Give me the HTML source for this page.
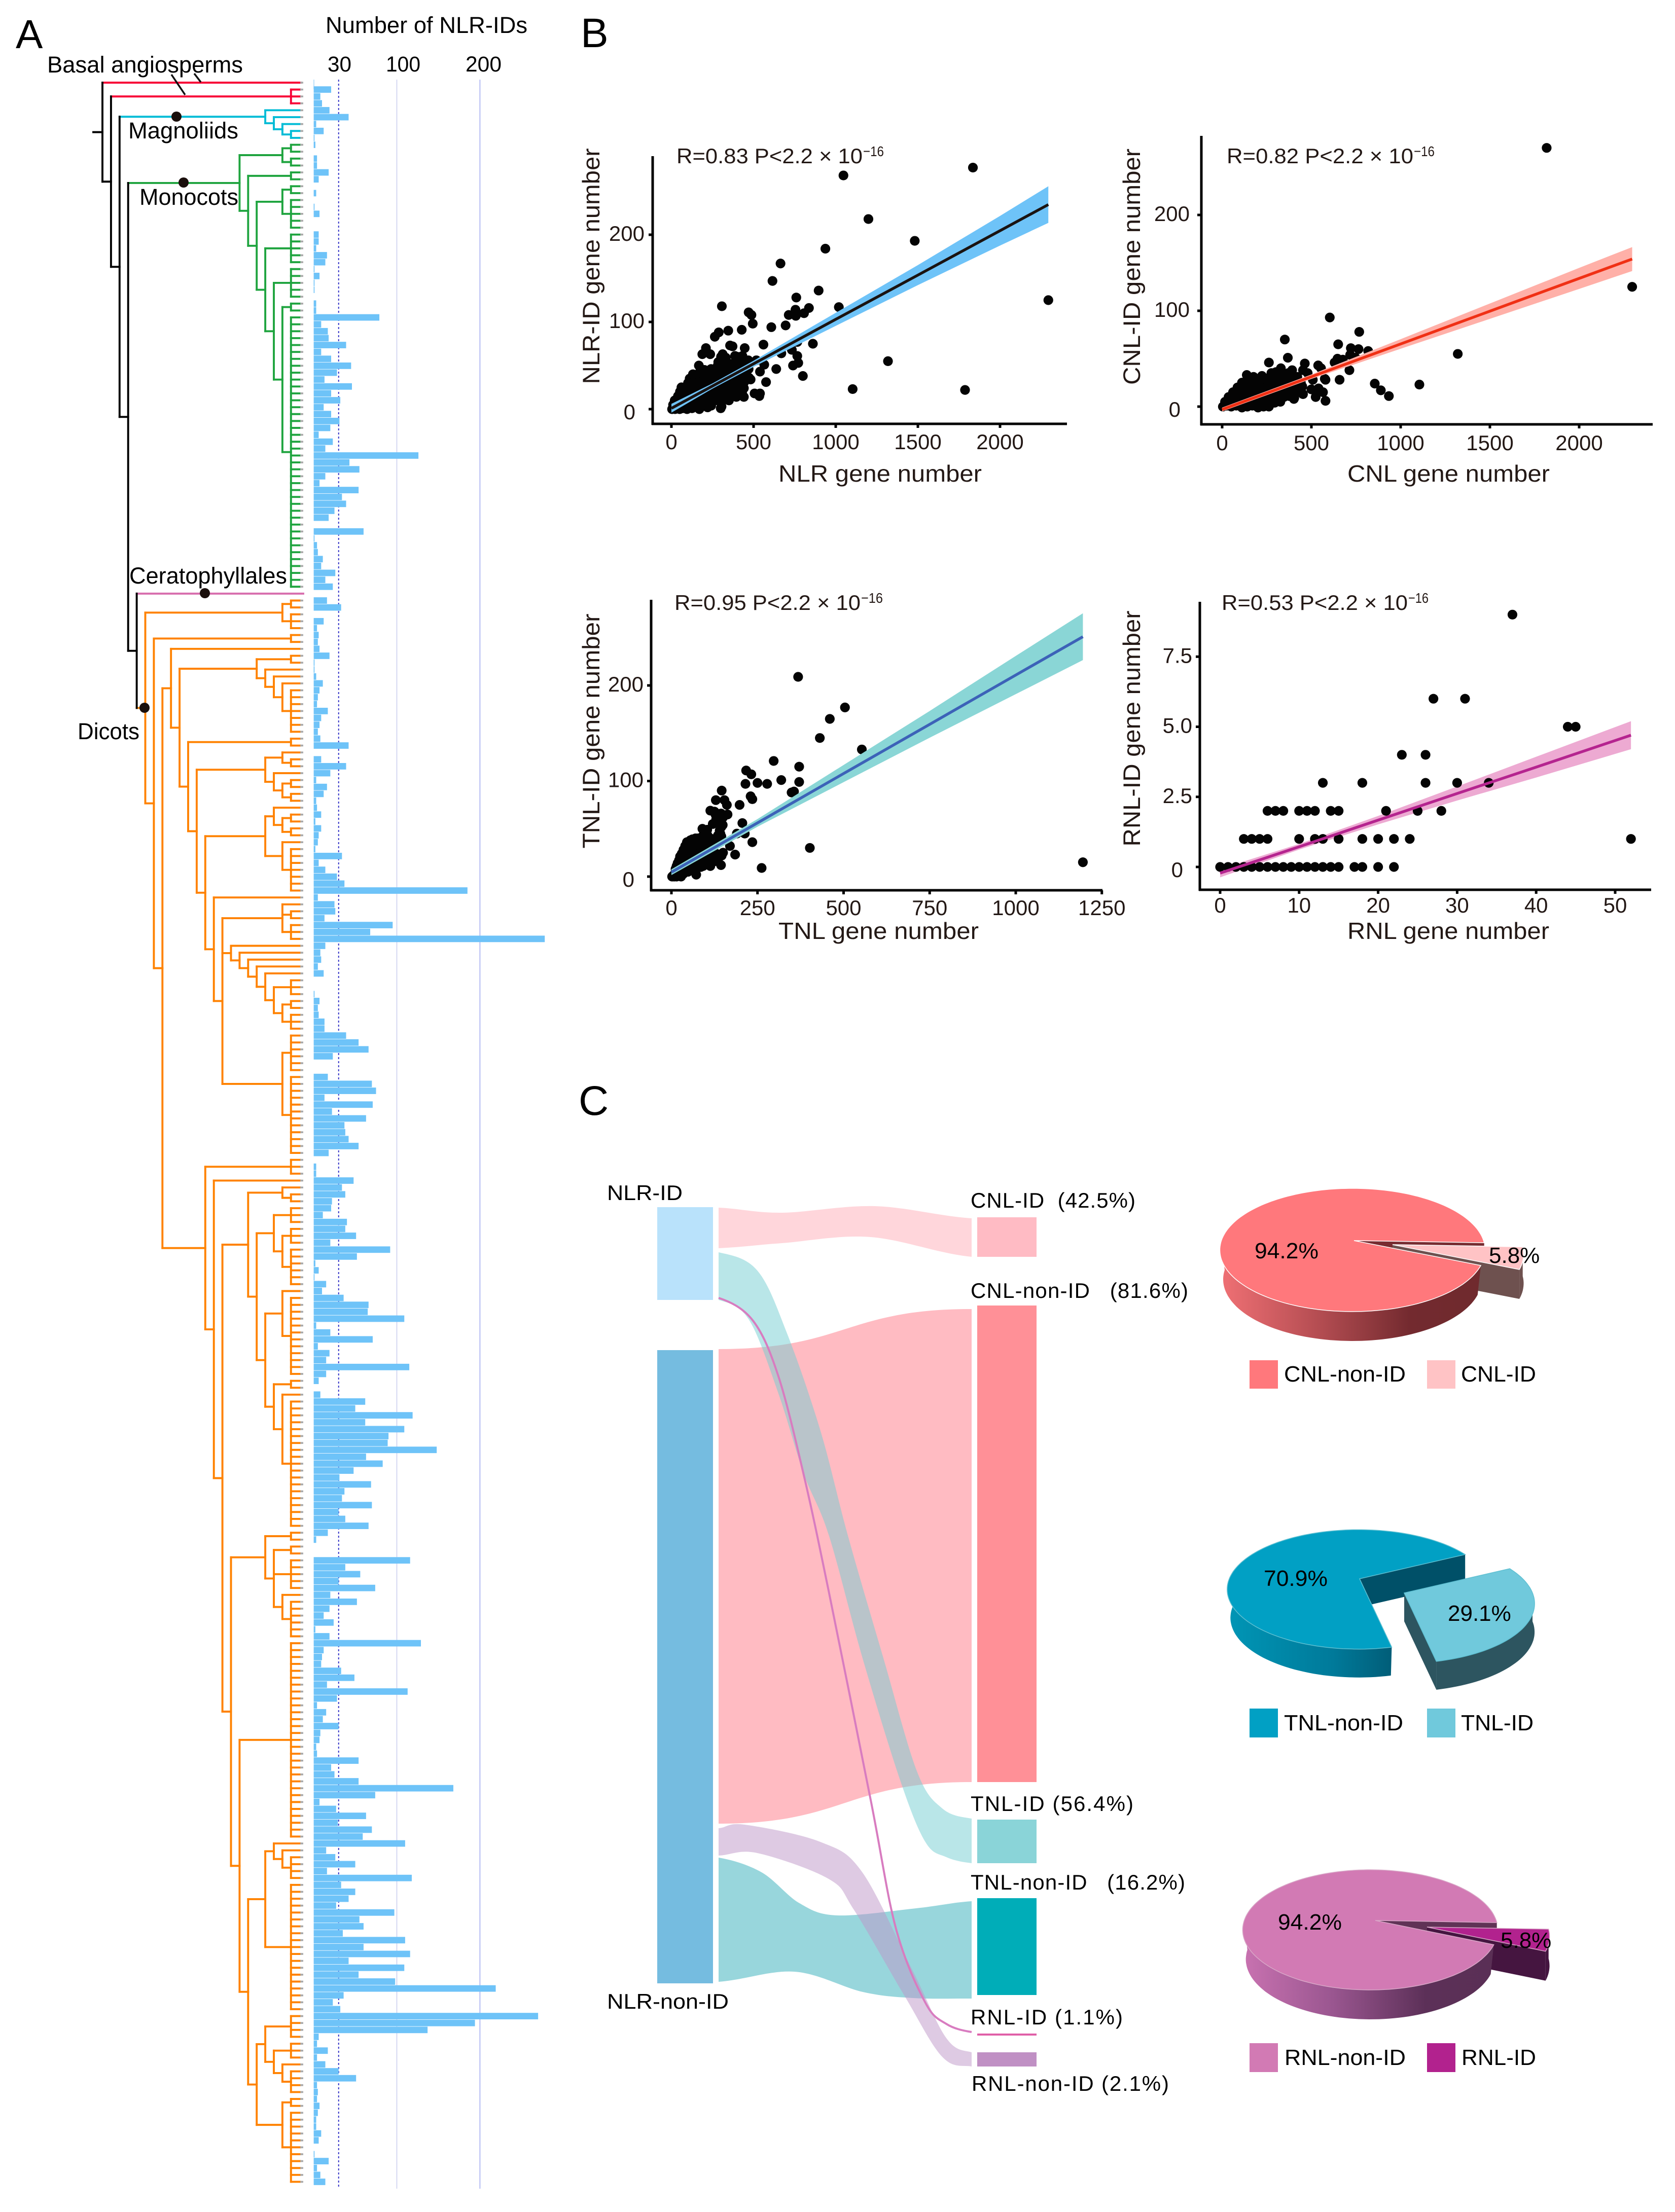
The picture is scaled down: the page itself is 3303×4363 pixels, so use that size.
<!DOCTYPE html>
<html lang="en">
<head>
<meta charset="utf-8">
<title>NLR-ID phylogeny, correlations and Sankey</title>
<style>
html,body{margin:0;padding:0;background:#fff}
svg{display:block}
text{font-family:"Liberation Sans",Arial,sans-serif;fill:#000}
.ax{fill:#231815}
</style>
</head>
<body>
<svg id="figure" xmlns="http://www.w3.org/2000/svg" width="3303" height="4363" viewBox="0 0 3303 4363">
<rect width="3303" height="4363" fill="#fff"/>
<defs id="defs"></defs>

<g id="panel-a">
  <g id="bar-grid"></g>
  <g id="bars"></g>
  <g id="tree"></g>
  <line x1="338" y1="147" x2="365" y2="187" stroke="#111" stroke-width="3.5"/>
  <line x1="383" y1="145" x2="396" y2="162" stroke="#111" stroke-width="3.5"/>
  <circle cx="348" cy="230" r="10" fill="#1a0f0c"/>
  <circle cx="362" cy="360" r="10" fill="#1a0f0c"/>
  <circle cx="404" cy="1170" r="10" fill="#1a0f0c"/>
  <circle cx="285" cy="1396" r="10" fill="#1a0f0c"/>
  <text x="31" y="95" font-size="80">A</text>
  <text x="642" y="65" font-size="45" textLength="398" lengthAdjust="spacingAndGlyphs">Number of NLR-IDs</text>
  <text x="646" y="141" font-size="43" textLength="47" lengthAdjust="spacingAndGlyphs">30</text>
  <text x="761" y="141" font-size="43" textLength="68" lengthAdjust="spacingAndGlyphs">100</text>
  <text x="918" y="141" font-size="43" textLength="71" lengthAdjust="spacingAndGlyphs">200</text>
  <text x="93" y="143" font-size="45" textLength="386" lengthAdjust="spacingAndGlyphs">Basal angiosperms</text>
  <text x="253" y="273" font-size="45" textLength="217" lengthAdjust="spacingAndGlyphs">Magnoliids</text>
  <text x="275" y="404" font-size="45" textLength="195" lengthAdjust="spacingAndGlyphs">Monocots</text>
  <text x="255" y="1151" font-size="45" textLength="311" lengthAdjust="spacingAndGlyphs">Ceratophyllales</text>
  <text x="153" y="1458" font-size="45" textLength="122" lengthAdjust="spacingAndGlyphs">Dicots</text>
</g>

<g id="panel-b">
  <text x="1145" y="93" font-size="82">B</text>
  <g id="scatter-nlr"></g>
  <g id="scatter-cnl"></g>
  <g id="scatter-tnl"></g>
  <g id="scatter-rnl"></g>

  <text class="ax" x="1334" y="322" font-size="42" textLength="367" lengthAdjust="spacingAndGlyphs">R=0.83 P&lt;2.2 × 10</text>
  <text class="ax" x="1702" y="308" font-size="28" textLength="41" lengthAdjust="spacingAndGlyphs">−16</text>
  <text class="ax" x="1535" y="950" font-size="46" textLength="401" lengthAdjust="spacingAndGlyphs">NLR gene number</text>
  <text class="ax" transform="translate(1182,525) rotate(-90)" text-anchor="middle" font-size="47" textLength="465" lengthAdjust="spacingAndGlyphs">NLR-ID gene number</text>

  <text class="ax" x="2419" y="322" font-size="42" textLength="368" lengthAdjust="spacingAndGlyphs">R=0.82 P&lt;2.2 × 10</text>
  <text class="ax" x="2788" y="308" font-size="28" textLength="41" lengthAdjust="spacingAndGlyphs">−16</text>
  <text class="ax" x="2657" y="950" font-size="46" textLength="399" lengthAdjust="spacingAndGlyphs">CNL gene number</text>
  <text class="ax" transform="translate(2248,526) rotate(-90)" text-anchor="middle" font-size="47" textLength="466" lengthAdjust="spacingAndGlyphs">CNL-ID gene number</text>

  <text class="ax" x="1330" y="1203" font-size="42" textLength="367" lengthAdjust="spacingAndGlyphs">R=0.95 P&lt;2.2 × 10</text>
  <text class="ax" x="1698" y="1189" font-size="28" textLength="43" lengthAdjust="spacingAndGlyphs">−16</text>
  <text class="ax" x="1535" y="1852" font-size="46" textLength="395" lengthAdjust="spacingAndGlyphs">TNL gene number</text>
  <text class="ax" transform="translate(1182,1442) rotate(-90)" text-anchor="middle" font-size="47" textLength="463" lengthAdjust="spacingAndGlyphs">TNL-ID gene number</text>

  <text class="ax" x="2409" y="1203" font-size="42" textLength="367" lengthAdjust="spacingAndGlyphs">R=0.53 P&lt;2.2 × 10</text>
  <text class="ax" x="2777" y="1189" font-size="28" textLength="40" lengthAdjust="spacingAndGlyphs">−16</text>
  <text class="ax" x="2657" y="1852" font-size="46" textLength="398" lengthAdjust="spacingAndGlyphs">RNL gene number</text>
  <text class="ax" transform="translate(2248,1437) rotate(-90)" text-anchor="middle" font-size="47" textLength="465" lengthAdjust="spacingAndGlyphs">RNL-ID gene number</text>
</g>

<g id="panel-c">
  <text x="1141" y="2199" font-size="82">C</text>
  <g id="sankey"></g>
  <text x="1197" y="2367" font-size="42" textLength="149" lengthAdjust="spacingAndGlyphs">NLR-ID</text>
  <text x="1197" y="3962" font-size="42" textLength="240" lengthAdjust="spacingAndGlyphs">NLR-non-ID</text>
  <text x="1914" y="2382" font-size="42" textLength="325" lengthAdjust="spacing">CNL-ID&#160;&#160;(42.5%)</text>
  <text x="1914" y="2560" font-size="42" textLength="429" lengthAdjust="spacing">CNL-non-ID&#160;&#160;&#160;(81.6%)</text>
  <text x="1914" y="3572" font-size="42" textLength="321" lengthAdjust="spacing">TNL-ID&#160;(56.4%)</text>
  <text x="1914" y="3727" font-size="42" textLength="423" lengthAdjust="spacing">TNL-non-ID&#160;&#160;&#160;(16.2%)</text>
  <text x="1914" y="3993" font-size="42" textLength="300" lengthAdjust="spacing">RNL-ID&#160;(1.1%)</text>
  <text x="1916" y="4124" font-size="42" textLength="389" lengthAdjust="spacing">RNL-non-ID&#160;(2.1%)</text>

  <g id="pie-cnl"></g>
  <g id="pie-tnl"></g>
  <g id="pie-rnl"></g>

  <rect x="2464" y="2683" width="56" height="56" fill="#ff787c"/>
  <text x="2532" y="2725" font-size="44" textLength="240" lengthAdjust="spacingAndGlyphs">CNL-non-ID</text>
  <rect x="2814" y="2683" width="56" height="56" fill="#ffc3c5"/>
  <text x="2881" y="2725" font-size="44" textLength="148" lengthAdjust="spacingAndGlyphs">CNL-ID</text>

  <rect x="2464" y="3370" width="56" height="57" fill="#01a0c4"/>
  <text x="2532" y="3413" font-size="44" textLength="235" lengthAdjust="spacingAndGlyphs">TNL-non-ID</text>
  <rect x="2814" y="3370" width="56" height="57" fill="#70c9dc"/>
  <text x="2881" y="3413" font-size="44" textLength="143" lengthAdjust="spacingAndGlyphs">TNL-ID</text>

  <rect x="2464" y="4030" width="56" height="57" fill="#d27ab4"/>
  <text x="2533" y="4073" font-size="44" textLength="239" lengthAdjust="spacingAndGlyphs">RNL-non-ID</text>
  <rect x="2814" y="4030" width="56" height="57" fill="#b2228e"/>
  <text x="2882" y="4073" font-size="44" textLength="147" lengthAdjust="spacingAndGlyphs">RNL-ID</text>
</g>
</svg>

<script>
/* ---------- DATA ---------- */
const barValues = [
0,21,8,10,19,42,3,12,1,2,0,4,4,18,6,0,3,0,1,7,0,0,6,6,3,16,14,1,7,1,1,0,3,3,79,9,17,18,39,9,21,45,28,13,46,21,32,12,21,31,20,6,23,14,126,43,55,14,7,54,34,39,25,18,0,60,1,4,5,11,9,26,14,23,0,
16,33,0,12,4,6,5,7,19,1,1,3,11,7,5,4,17,9,7,5,8,42,0,9,39,20,3,16,12,3,4,9,2,9,6,5,2,34,6,14,28,37,185,5,25,26,13,95,68,278,14,8,9,5,12,0,0,1,7,5,6,13,13,39,54,66,23,0,0,17,70,75,13,71,22,
63,37,38,42,54,18,0,3,3,48,34,38,22,21,11,40,38,51,20,92,52,2,6,1,15,10,36,66,65,109,3,20,71,5,19,15,115,15,6,0,8,62,50,119,62,109,90,89,148,63,83,48,31,69,37,34,70,30,38,66,17,3,0,0,116,38,56,30,74,20,52,19,12,24,2,19,129,12,10,9,33,
49,16,113,28,4,15,11,30,8,7,3,4,54,21,25,54,168,74,7,27,63,29,70,59,110,15,26,50,16,118,33,50,42,27,97,55,60,35,110,60,116,42,109,54,98,219,36,23,32,270,194,137,6,4,17,4,14,30,51,4,5,4,7,5,3,3,9,6,0,1,18,4,8,14];
const barTicks = [30,100,200];

const RED='#f80037',CYAN='#00bcd6',GREEN='#1fa43f',ORANGE='#ff8200',PINK='#d86fae';
/* [column, optional clade colour, children...]; a number child means that many leaves */
const treeShape = [0,
 [null,RED,1],
 [1,
  [22,RED,3],
  [2,
   [19,CYAN,1,[20,1,[21,1,[22,2]]]],
   [3,
    [16,GREEN,
     [21,[22,2],[22,2]],
     [17,[22,2],[18,[21,[22,2],[22,5]],[19,[22,5],[20,[22,5],[21,[22,2],[22,40]]]]]]
    ],
    [4,
     [null,PINK,1],
     [5,ORANGE,
      [21,[22,2],[22,3]],
      [6,[22,2],[7,
       [8,1,[9,
        [18,[22,2],[19,1,[20,1,[21,1,[22,7]]]]],
        [10,[22,2],[11,
         [19,[21,1,[22,2]],[20,1,[21,[22,2],[22,2]]]],
         [12,
          [19,[20,1,[21,[22,2],[22,2]]],[21,1,[22,7]]],
          [13,1,[14,
           [21,1,[22,2],[22,3]],
           [15,1,[16,1,[17,1,[18,1,[19,1,[20,[22,3],[21,[22,2],[22,3]]]]]]]],
           [21,[22,6],[22,12]]
          ]]
         ]
        ]]
       ]],
       [12,[22,3],[13,1,[14,
        [17,[21,1,[22,2]],[18,
         [20,[22,3],[21,[22,3],[22,6]]],
         [19,[21,1,[22,12]],[20,[22,2],[21,1,[22,19]]]]
        ]],
        [15,
         [19,[22,2],[20,[22,2],[22,5],[21,1,[22,6]]]],
         [16,[22,29],[17,
          [19,[20,1,[21,1,[22,4]]],[22,19]],
          [18,
           [19,[22,4],[20,[22,3],[21,1,[22,4]]]],
           [21,[22,2],[22,11]]
          ]
         ]]
        ]
       ]]]
      ]]
     ]
    ]
   ]
  ]
 ]
];

/* scatter NLR */
const nlrPoints = [[1835,277],[1047,268],[1199,218],[1481,193],[937,184],[664,167],[615,147],[896,136],[760,128],[2294,125],[1019,117],[837,116],[755,114],[807,110],[714,108],[757,107],[470,111],[487,108],[307,118],[495,98],[695,96],[608,94],[428,91],[288,88],[346,90],[264,83],[861,75],[560,74],[766,77],[357,73],[372,72],[446,70],[210,70],[188,63],[312,63],[236,63],[733,68],[669,64],[766,61],[387,61],[517,56],[772,53],[740,50],[1318,55],[638,46],[565,51],[167,50],[279,48],[539,43],[800,38],[576,31],[482,34],[1103,23],[1787,22],[506,18],[539,18],[535,15],[441,14],
[4,0],[12,2],[22,0],[35,1],[50,0],[70,1],[95,0],[125,1],[170,0],[220,2],[300,1],
[10,5],[30,6],[52,4],[71,6],[92,5],[110,4],[133,6],[151,5],[172,3],[190,6],[211,5],[242,4],[305,3],
[20,10],[46,11],[70,9],[96,10],[121,12],[144,9],[171,11],[195,10],[219,9],[252,11],[279,10],[301,8],[350,10],
[40,15],[66,16],[88,14],[116,15],[141,17],[166,14],[189,16],[215,15],[243,14],[271,16],[298,14],[331,15],[395,14],
[52,20],[81,21],[109,19],[142,20],[171,22],[199,19],[231,21],[262,20],[289,18],[322,21],[352,19],[391,20],[430,19],
[61,25],[96,26],[131,24],[158,26],[192,25],[221,24],[249,26],[282,24],[309,26],[341,24],[369,26],[402,25],[441,24],
[101,30],[134,31],[166,29],[196,30],[226,31],[254,29],[286,31],[314,29],[346,31],[376,30],[406,29],[443,31],
[111,35],[142,36],[169,34],[201,36],[229,34],[266,36],[296,34],[331,36],[361,34],[396,36],[431,35],[472,36],
[131,40],[166,41],[199,39],[236,41],[271,39],[306,41],[341,39],[374,41],[412,39],[451,41],
[201,45],[241,46],[281,44],[311,46],[351,44],[391,46],[431,44],[470,46],
[282,50],[311,51],[352,49],[396,51],[431,50],[285,54],[332,56],[386,54],[421,55],[468,56],[302,60],[331,59],[402,60],[432,61]];
const nlrFitX = [0,250,500,1000,1500,2000,2294];
const nlrFitY = [1,26.5,52,103,153.7,204.6,234.6];
const nlrFitLo = [-4,23.5,48.5,95.5,142.2,187.6,213.6];
const nlrFitHi = [6,29.5,55.5,110.5,165.2,221.6,255.6];
const nlrXTicks = [0,500,1000,1500,2000];
const nlrYTicks = [0,100,200];

/* scatter CNL */
const cnlPoints = [[1818,270],[2297,125],[603,93],[768,78],[351,70],[650,65],[721,61],[764,60],[818,58],[1320,55],[368,51],[262,46],[463,45],[538,43],[554,40],[646,50],[630,46],[676,49],[717,54],[747,51],[329,40],[392,38],[453,38],[479,35],[713,38],[138,33],[223,32],[290,31],[396,29],[575,29],[508,28],[579,28],[658,28],[855,24],[889,17],[934,11],[1105,23],[540,19],[500,18],[565,15],[453,13],[524,10],[579,6],[402,8],
[4,0],[26,1],[51,0],[79,1],[111,-1],[141,0],[169,1],[201,-1],[232,0],[262,0],
[16,5],[41,6],[64,4],[91,5],[116,6],[144,4],[176,6],[204,4],[236,5],[266,6],[294,4],[326,5],
[36,10],[61,11],[84,9],[111,10],[136,11],[164,9],[196,11],[224,9],[256,10],[286,11],[314,9],[346,10],[376,11],[404,9],
[61,15],[86,16],[109,14],[134,15],[166,16],[194,14],[226,16],[254,14],[286,15],[316,16],[344,14],[386,15],[421,16],
[86,20],[111,21],[134,19],[161,20],[191,21],[219,19],[251,21],[279,19],[311,20],[339,21],[371,19],[411,20],[449,21],
[111,25],[131,26],[154,24],[186,26],[214,24],[251,25],[284,26],[321,24],[354,25],[396,26],[441,25],
[146,30],[176,31],[226,29],[261,30],[301,31],[334,29],[381,30],[421,31],[276,35],[301,36],[341,34],[371,35]];
const cnlFitX = [0,500,1000,1500,2000,2297];
const cnlFitY = [-3,31.2,65.4,99.6,133.8,154];
const cnlFitLo = [-5,28.9,60.4,91.6,122.8,141.5];
const cnlFitHi = [-1,33.5,70.4,107.6,144.8,166.5];
const cnlXTicks = [0,500,1000,1500,2000];
const cnlYTicks = [0,100,200];

/* scatter TNL */
const tnlPoints = [[368,209],[504,177],[460,165],[431,145],[553,133],[297,121],[371,115],[217,111],[232,107],[319,101],[371,99],[215,97],[250,98],[278,97],[146,90],[356,89],[349,88],[230,84],[235,81],[129,80],[154,80],[161,75],[198,75],[113,69],[144,66],[163,65],[128,65],[206,56],[149,54],[90,50],[104,49],[142,45],[213,45],[190,45],[61,39],[77,40],[113,40],[235,36],[402,30],[170,32],[185,23],[1195,15],[262,9],[144,12],[113,11],[92,11],[72,2],[146,22],[128,20],
[2,0],[5,1],[8,0],[10,3],[12,1],[15,0],[18,2],[20,5],[22,1],[25,3],[28,0],[30,6],[12,8],[15,11],[18,14],[22,17],[25,21],[30,24],[35,28],[40,32],[45,36],[28,10],[32,14],[35,18],[38,22],[42,26],[48,30],[52,34],[55,38],[35,3],[38,7],[42,11],[45,15],[48,19],[52,23],[58,27],[62,31],[65,36],[70,40],[48,5],[55,9],[60,13],[62,17],[66,21],[70,25],[75,29],[80,33],[85,37],[90,42],[95,45],[100,47],[105,43],[110,38],[75,18],[80,22],[85,26],[90,30],[95,34],[100,36],[105,30],[110,26],[115,22],[120,28],[125,33],[130,38],[135,43],[140,48],[145,42],[120,20],[125,16],[130,24],[135,18],[140,22],[150,25],[100,18],[95,14],[90,12],[85,10],[105,14],[110,12],[120,55],[130,60],[140,58],[150,62],[125,68],[135,63],[145,52],[70,8],[75,12]];
const tnlFitX = [0,250,500,750,1000,1195];
const tnlFitY = [4.6,56.2,107.8,159.3,210.9,251];
const tnlFitLo = [1.6,52.2,98.8,145.3,190.9,226.5];
const tnlFitHi = [7.6,60.2,116.8,173.3,230.9,275.5];
const tnlXTicks = [0,250,500,750,1000,1250];
const tnlYTicks = [0,100,200];

/* scatter RNL */
const rnlPoints = [[37,9],[27,6],[31,6],[44,5],[45,5],[23,4],[26,4],[13,3],[18,3],[26,3],[30,3],[34,3],
[6,2],[7,2],[8,2],[10,2],[11,2],[12,2],[14,2],[15,2],[21,2],[25,2],[28,2],
[3,1],[4,1],[5,1],[6,1],[10,1],[12,1],[13,1],[15,1],[18,1],[20,1],[22,1],[24,1],[52,1],
[0,0],[1,0],[2,0],[3,0],[4,0],[5,0],[6,0],[7,0],[8,0],[9,0],[10,0],[11,0],[12,0],[13,0],[14,0],[15,0],[17,0],[18,0],[20,0],[22,0]];
const rnlFitX = [0,10,20,30,40,52];
const rnlFitY = [-0.22,0.72,1.67,2.62,3.56,4.7];
const rnlFitLo = [-0.37,0.62,1.52,2.37,3.19,4.2];
const rnlFitHi = [-0.07,0.82,1.82,2.87,3.93,5.2];
const rnlXTicks = [0,10,20,30,40,50];
const rnlYTicks = [0,2.5,5,7.5];

/* sankey */
const sankeySources = ['NLR-ID','NLR-non-ID'];
const sankeySourceValues = [183,1249];
const sankeyTargets = ['CNL-ID','CNL-non-ID','TNL-ID','TNL-non-ID','RNL-ID','RNL-non-ID'];
const sankeyTargetValues = [78,940,86,191,4,28];
const sankeyFromCNLID = 80, sankeyFromTNLID = 94, sankeyFromRNLID = 4;
const sankeyFromCNLnon = 936, sankeyFromRNLnon = 54, sankeyFromTNLnon = 245;

/* pies: [non-ID %, ID %] */
const pieCNL = [94.2,5.8];
const pieTNL = [70.9,29.1];
const pieRNL = [94.2,5.8];

/* ---------- HELPERS ---------- */
const NS = 'http://www.w3.org/2000/svg';
function mk(tag, attrs, parent){
  const el = document.createElementNS(NS, tag);
  for (const k in attrs) el.setAttribute(k, attrs[k]);
  parent.appendChild(el);
  return el;
}
const $ = id => document.getElementById(id);

/* ---------- PANEL A ---------- */
const rowY = i => 163 + 13.62 * i;
const barX = v => 618.6 + 1.639 * v;
const colX = c => 202 + 16.9 * c;
const TIP_X = 592;

(function drawBars(){
  const grid = $('bar-grid'), bars = $('bars');
  const zero = mk('line',{x1:619,x2:619,y1:157,y2:176,stroke:'#a9d6f7','stroke-width':1.5},grid);
  
  
  barTicks.forEach(t=>{
    const ln = mk('line',{x1:barX(t),x2:barX(t),y1:157,y2:4317,
      stroke:t===30?'#3535c8':(t===100?'#ccd0f0':'#b4bcf4'),
      'stroke-width':t===30?2:(t===100?1.6:2),
      'stroke-dasharray':t===30?'4 4':'none'},grid);
    
    
  });
  barValues.forEach((v,i)=>{
    if(!v) return;
    const r = mk('rect',{x:barX(0),y:rowY(i)-6.4,width:barX(v)-barX(0),height:12.8,fill:'#6ec3f8'},bars);
    
    
  });
})();

(function drawTree(){
  const g = $('tree');
  let cursor = 0;
  function seg(d,color){
    const p = mk('path',{d:d,fill:'none',stroke:color,'stroke-width':3.9,'stroke-linecap':'square'},g);
    
    
  }
  function tip(y,x,color){
    seg('M'+x+' '+y+'H'+TIP_X,color);
  }
  function walk(node,color,parentX){
    if(node[0]===null){
      const y = rowY(cursor++);
      const c = node[1];
      seg('M'+parentX+' '+y+'H'+(c===PINK?598:593),c);
      return y;
    }
    let kids = node.slice(1), c = color;
    if(typeof kids[0]==='string'){ c = kids[0]; kids = kids.slice(1); }
    const x = colX(node[0]);
    const ys = [];
    kids.forEach(k=>{
      if(typeof k==='number'){
        for(let n=0;n<k;n++){ const y=rowY(cursor++); ys.push(y); tip(y,x,c); }
      } else ys.push(walk(k,c,x));
    });
    const y = (ys[0]+ys[ys.length-1])/2;
    seg('M'+x+' '+ys[0]+'V'+ys[ys.length-1],c);
    seg('M'+parentX+' '+y+'H'+x,c);
    return y;
  }
  walk(treeShape,'#000',184);
  for(let i=0;i<cursor;i++){
    if(i===74) continue;
    const t = mk('rect',{x:592,y:rowY(i)-1.8,width:6,height:3.6,fill:'#aaa'},g);
    
    
  }
})();

/* ---------- PANEL B ---------- */
function scatter(id,cfg){
  const g = $(id);
  const sx = v => cfg.x0 + cfg.xs * v;
  const sy = v => cfg.y0 - cfg.ys * v;
  function drawPoints(){
    cfg.points.forEach(p=>{
      const c = mk('circle',{cx:sx(p[0]),cy:sy(p[1]),r:9.6,fill:'#040404'},g);
      
      
    });
  }
  if(!cfg.pointsOverBand) drawPoints();
  const up = cfg.fitX.map((x,i)=>sx(x)+','+sy(cfg.fitHi[i]));
  const dn = cfg.fitX.map((x,i)=>sx(x)+','+sy(cfg.fitLo[i])).reverse();
  const band = mk('polygon',{points:up.concat(dn).join(' '),fill:cfg.band},g);
  
  
  if(cfg.pointsOverBand) drawPoints();
  const line = mk('polyline',{points:cfg.fitX.map((x,i)=>sx(x)+','+sy(cfg.fitY[i])).join(' '),fill:'none',stroke:cfg.line,'stroke-width':5.5},g);
  
  
  const yAxis = mk('line',{x1:cfg.ax,x2:cfg.ax,y1:cfg.top,y2:cfg.bot+2,stroke:'#000','stroke-width':5},g);
  
  
  const xAxis = mk('line',{x1:cfg.ax-2,x2:cfg.right,y1:cfg.bot,y2:cfg.bot,stroke:'#000','stroke-width':5},g);
  
  
  cfg.xTicks.forEach(t=>{
    const tk = mk('line',{x1:sx(t),x2:sx(t),y1:cfg.bot,y2:cfg.bot+8,stroke:'#000','stroke-width':5},g);
    
    
    const lb = mk('text',{x:sx(t),y:cfg.xLabelY,'font-size':42,'text-anchor':'middle',class:'ax'},g);
    lb.textContent = String(t);
    
    
  });
  cfg.yTicks.forEach(t=>{
    const tk = mk('line',{x1:cfg.ax-8,x2:cfg.ax,y1:sy(t),y2:sy(t),stroke:'#000','stroke-width':5},g);
    
    
    const lb = mk('text',{x:cfg.ax-cfg.yPad-(t===0?18:0),y:sy(t)+(t===0?20:12),'font-size':42,'text-anchor':'end',class:'ax'},g);
    lb.textContent = (cfg.yFixed && t!==0) ? t.toFixed(1) : String(t);
    
    
  });
}
scatter('scatter-nlr',{points:nlrPoints,fitX:nlrFitX,fitY:nlrFitY,fitLo:nlrFitLo,fitHi:nlrFitHi,xTicks:nlrXTicks,yTicks:nlrYTicks,
  x0:1324,xs:0.324,y0:807,ys:1.72,ax:1287,top:308,bot:836,right:2104,xLabelY:886,yPad:16,band:'#6ec3f8',line:'#1a1311'});
scatter('scatter-cnl',{points:cnlPoints,fitX:cnlFitX,fitY:cnlFitY,fitLo:cnlFitLo,fitHi:cnlFitHi,xTicks:cnlXTicks,yTicks:cnlYTicks,
  x0:2410,xs:0.352,y0:802,ys:1.89,ax:2369,top:268,bot:837,right:3259,xLabelY:888,yPad:23,band:'#ffb0a8',line:'#f03014'});
scatter('scatter-tnl',{points:tnlPoints,fitX:tnlFitX,fitY:tnlFitY,fitLo:tnlFitLo,fitHi:tnlFitHi,xTicks:tnlXTicks,yTicks:tnlYTicks,
  x0:1324,xs:0.679,y0:1729,ys:1.885,ax:1284,top:1183,bot:1756,right:2174,xLabelY:1805,yPad:15,band:'#8ad6d6',line:'#3c62b8'});
scatter('scatter-rnl',{points:rnlPoints,fitX:rnlFitX,fitY:rnlFitY,fitLo:rnlFitLo,fitHi:rnlFitHi,xTicks:rnlXTicks,yTicks:rnlYTicks,
  x0:2406,xs:15.58,y0:1710,ys:55.3,ax:2366,top:1187,bot:1755,right:3256,xLabelY:1800,yPad:15,yFixed:true,pointsOverBand:true,band:'#edaad2',line:'#b5248f'});

/* ---------- PANEL C: SANKEY ---------- */
(function drawSankey(){
  const g = $('sankey');
  const X0=1417, X1=1916;
  const leftTop=[2381], leftGap=99;
  leftTop.push(leftTop[0]+sankeySourceValues[0]+leftGap);
  sankeySources.forEach((n,i)=>{
    const r = mk('rect',{x:1296,y:leftTop[i],width:110,height:sankeySourceValues[i],fill:i?'#75bce0':'#b9e2fb'},g);
    
    
  });
  const gaps=[96,74,69,76,33];
  const rightFill=['#ffbbc4','#ff9097','#8ad4d8','#00adb8','#e060a8','#c090c4'];
  const rightTop=[2401];
  for(let i=0;i<gaps.length;i++) rightTop.push(rightTop[i]+sankeyTargetValues[i]+gaps[i]);
  sankeyTargets.forEach((n,i)=>{
    const r = mk('rect',{x:1927,y:rightTop[i],width:117,height:sankeyTargetValues[i],fill:rightFill[i]},g);
    
    
  });
  function edge(pts,first){
    let d = first ? 'M'+pts[0][0]+' '+pts[0][1] : 'L'+pts[0][0]+' '+pts[0][1];
    if(pts.length===2){
      const mx=(pts[0][0]+pts[1][0])/2;
      return d+'C'+mx+' '+pts[0][1]+' '+mx+' '+pts[1][1]+' '+pts[1][0]+' '+pts[1][1];
    }
    const P=[[pts[0][0]-(pts[1][0]-pts[0][0]),pts[0][1]]].concat(pts,[[2*pts[pts.length-1][0]-pts[pts.length-2][0],pts[pts.length-1][1]]]);
    for(let i=1;i<P.length-2;i++){
      const a=P[i-1],b=P[i],c=P[i+1],e=P[i+2];
      d+='C'+(b[0]+(c[0]-a[0])/6)+' '+(b[1]+(c[1]-a[1])/6)+' '+(c[0]-(e[0]-b[0])/6)+' '+(c[1]-(e[1]-b[1])/6)+' '+c[0]+' '+c[1];
    }
    return d;
  }
  function flow(name,yl,wl,yr,wr,fill,topBends,botBends){
    const w=X1-X0;
    const top=[[X0,yl]].concat((topBends||[]).map(b=>[X0+b[0]*w,yl+b[1]]),[[X1,yr]]);
    const bot=[[X0,yl+wl]].concat((botBends||[]).map(b=>[X0+b[0]*w,yl+wl+b[1]]),[[X1,yr+wr]]).reverse();
    const p = mk('path',{d:edge(top,true)+edge(bot,false)+'Z',fill:fill},g);
    
    
  }
  function ribbon(name,yl,yr,width,stroke,bends){
    const w=X1-X0;
    const pts=[[X0,yl]].concat(bends.map(b=>[X0+b[0]*w,yl+b[1]]),[[X1,yr]]);
    const p = mk('path',{d:edge(pts,true),fill:'none',stroke:stroke,'stroke-width':width},g);
    
    
  }
  const lA=leftTop[0]+1, lB=leftTop[1]-2;
  flow('sankey-flow-cnl-id',lA,sankeyFromCNLID,rightTop[0]+2,sankeyTargetValues[0]-2,'#ffd6db',[[0.25,10],[0.618,-3]],[[0.25,-10],[0.6,-22]]);
  flow('sankey-flow-cnl-non-id',lB,sankeyFromCNLnon,rightTop[1]+7,sankeyTargetValues[1]-7,'#ffbbc2');
  flow('sankey-flow-tnl-non-id',lB+sankeyFromCNLnon+9+sankeyFromRNLnon+4,sankeyFromTNLnon,rightTop[3]+6,sankeyTargetValues[3]+1,'#98d6dc',
    [[0.17,29],[0.32,90],[0.47,114],[0.78,100]],[[0.3,-20],[0.57,20],[0.77,32]]);
  flow('sankey-flow-tnl-id',lA+sankeyFromCNLID+8,sankeyFromTNLID,rightTop[2]-2,sankeyTargetValues[2]+2,'rgba(115,205,209,.5)',
    [[0.153,36],[0.269,158],[0.402,351],[0.51,557],[0.651,800],[0.784,1024],[0.884,1097]],
    [[0.12,39],[0.236,184],[0.336,342],[0.435,463],[0.568,705],[0.718,948],[0.817,1069],[0.90,1099]]);
  flow('sankey-flow-rnl-non-id',lB+sankeyFromCNLnon+9,sankeyFromRNLnon,rightTop[5],sankeyTargetValues[5],'rgba(190,150,200,.5)',
    [[0.103,-7],[0.402,27],[0.568,87],[0.767,281],[0.90,414]],[[0.153,-5],[0.435,46],[0.535,107],[0.734,276],[0.884,397]]);
  ribbon('sankey-flow-rnl-id',lA+sankeyFromCNLID+8+sankeyFromTNLID-4,rightTop[4]-3,sankeyFromRNLID,'#d87cc0',
    [[0.136,45],[0.236,154],[0.336,348],[0.435,578],[0.601,990],[0.701,1244],[0.817,1390],[0.90,1432]]);
})();

/* ---------- PANEL C: PIES ---------- */
function pie3d(id,values,cfg){
  const g = $(id);
  const defs = $('defs');
  const gradId = id+'-grad';
  const grad = mk('linearGradient',{id:gradId,gradientUnits:'userSpaceOnUse',x1:cfg.cx-cfg.r,x2:cfg.cx+cfg.r,y1:0,y2:0},defs);
  cfg.wallStops.forEach(s=>{ mk('stop',{offset:s[0],'stop-color':s[1]},grad); });
  const rad = a => a*Math.PI/180;
  function proj(a,dx,dy,shrink){
    const u=Math.cos(rad(a)),v=Math.sin(rad(a)),w=1-cfg.k*v,q=shrink||1;
    return [cfg.cx+dx+q*cfg.r*u/w, cfg.ay+dy+cfg.s*v/w];
  }
  function arc(a,b,dx,dy,shrink){
    const pts=[]; const n=Math.max(2,Math.ceil(Math.abs(b-a)/2));
    for(let i=0;i<=n;i++) pts.push(proj(a+(b-a)*i/n,dx,dy,shrink));
    return pts;
  }
  const str = pts => pts.map(p=>p[0].toFixed(1)+','+p[1].toFixed(1)).join(' ');
  const span = values[1]*3.6, a0 = cfg.start, a1 = cfg.start+span;
  const D = cfg.depth, ex = cfg.ex, ey = cfg.ey;
  const apex=[cfg.cx+cfg.apexDx,cfg.ay], eApex=[apex[0]+ex,apex[1]+ey];

  /* main inner wall */
  const st = proj(a0,0,0);
  const w1 = mk('polygon',{points:str([apex,st,[st[0],st[1]+D],[apex[0],apex[1]+D]]),fill:cfg.inner},g);
  
  

  /* exploded slice outer wall */
  const sTop = arc(Math.max(a0,0),a1,ex,ey);
  const sBot = arc(a1,Math.max(a0,0),ex,ey+D);
  const w2 = mk('polygon',{points:str(sTop.concat(sBot)),fill:cfg.sliceWall},g);
  
  

  /* exploded slice cut wall */
  const en = proj(a1,ex,ey);
  const w3 = mk('polygon',{points:str([eApex,en,[en[0],en[1]+D],[eApex[0],eApex[1]+D]]),fill:cfg.sliceWall},g);
  
  

  /* exploded slice top */
  const sf = mk('polygon',{points:str([eApex].concat(arc(a0,a1,ex,ey))),fill:cfg.sliceTop,stroke:cfg.edge,'stroke-width':1.5},g);
  
  

  /* main outer wall */
  const mTop = arc(a1,180,0,0);
  const mBot = arc(180,a1,0,D,0.975);
  const w4 = mk('polygon',{points:str(mTop.concat(mBot)),fill:'url(#'+gradId+')'},g);
  
  

  /* main top */
  const mf = mk('polygon',{points:str([apex].concat(arc(a1,a0+360,0,0))),fill:cfg.top,stroke:cfg.edge,'stroke-width':1.5},g);
  
  

  /* printed values */
  const t0 = mk('text',{x:cfg.l0[0],y:cfg.l0[1],'font-size':44,textLength:126,lengthAdjust:'spacingAndGlyphs'},g);
  t0.textContent = values[0].toFixed(1)+'%';
  
  
  const t1 = mk('text',{x:cfg.l1[0],y:cfg.l1[1],'font-size':44},g);
  t1.textContent = values[1].toFixed(1)+'%';
  
  
}
pie3d('pie-cnl',pieCNL,{cx:2667,ay:2447,apexDx:3,r:258.5,k:0.152,s:118.7,depth:58,start:2,ex:76,ey:8,
  top:'#ff787c',inner:'#772b30',sliceTop:'#ffc3c5',sliceWall:'#6e514f',edge:'#fff',
  wallStops:[[0,'#ef7074'],[0.35,'#b84f54'],[0.72,'#732a2f'],[1,'#6f2a2e']],l0:[2474,2482],l1:[2936,2491]});
pie3d('pie-tnl',pieTNL,{cx:2679,ay:3114,apexDx:2,r:255,k:0.178,s:114,depth:56,start:-27,ex:88,ey:28,
  top:'#01a0c4',inner:'#005068',sliceTop:'#70c9dc',sliceWall:'#2d5560',edge:'#5fc0d2',
  wallStops:[[0,'#0095b5'],[0.4,'#007a9a'],[0.75,'#024e66'],[1,'#024a60']],l0:[2492,3128],l1:[2855,3197]});
pie3d('pie-rnl',pieRNL,{cx:2702,ay:3788,apexDx:10,r:248.5,k:0.156,s:115.6,depth:58,start:2,ex:102,ey:13,
  top:'#d27ab4',inner:'#603356',sliceTop:'#b2228e',sliceWall:'#451540',edge:'#d9a8c8',
  wallStops:[[0,'#c872b0'],[0.35,'#9a5690'],[0.72,'#5c3058'],[1,'#5a2f55']],l0:[2520,3806],l1:[2959,3842]});
</script>
</body>
</html>
